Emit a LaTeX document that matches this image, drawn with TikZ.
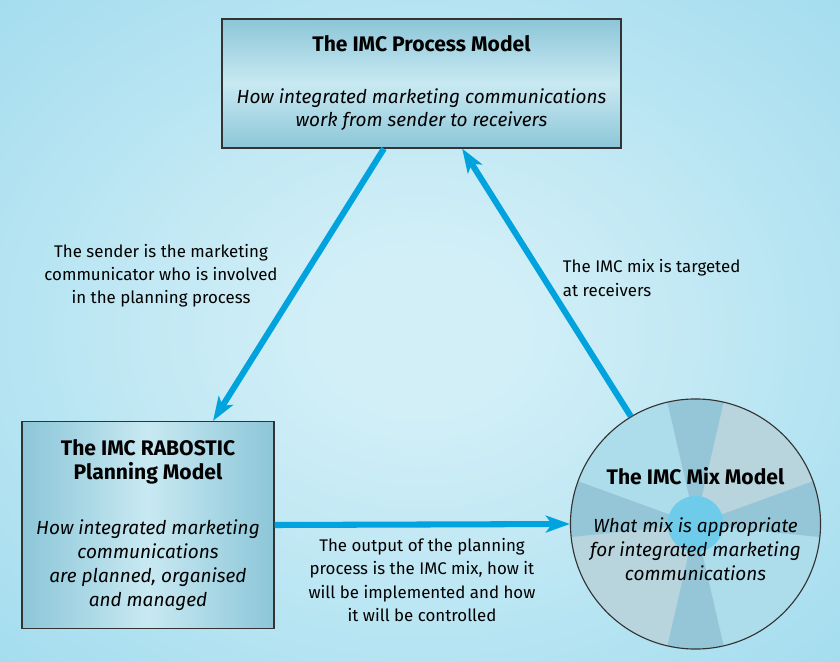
\documentclass[tikz,border=0pt]{standalone}
\usepackage{fontspec}
\setmainfont{Fira Sans}
\usetikzlibrary{arrows.meta,positioning,shadings}

\definecolor{bgin}{HTML}{D2EFF7}
\definecolor{bgout}{HTML}{8ED4EA}
\definecolor{boxdark}{HTML}{8CC6D8}
\definecolor{boxlight}{HTML}{C8E9F2}
\definecolor{flowblue}{HTML}{00A3DD}
\definecolor{mixgrey}{HTML}{B8D4DD}
\definecolor{mixblue}{HTML}{ADDCEB}
\definecolor{mixdark}{HTML}{95C6D7}
\definecolor{mixhub}{HTML}{6ECBEA}
\pgfdeclareradialshading{bgglow}{\pgfpoint{0bp}{0bp}}{color(0bp)=(bgin); color(6bp)=(bgin); color(50bp)=(bgout); color(72bp)=(bgout)}

\tikzset{
  model/.style={draw=black!80, line width=0.8pt, inner sep=0pt, align=center,
    font=\fontsize{13.5}{17}\selectfont\itshape},
  flow/.style={draw=flowblue, line width=4.3pt, -{Stealth[length=0.6cm,width=0.42cm,inset=0.15cm]}},
  note/.style={align=center, font=\fontsize{12}{16.5}\selectfont},
}
\newcommand{\mtitle}[1]{{\fontsize{15}{19.8}\selectfont\upshape\bfseries #1}}

\begin{document}
\begin{tikzpicture}[x=0.025cm, y=-0.025cm]
\shade[shading=bgglow] (0,0) rectangle (840,662);
\useasboundingbox (0,0) rectangle (840,662);

% the three models
\node[model, minimum width=9.975cm, minimum height=3.225cm,
  top color=boxdark, bottom color=boxdark, middle color=boxlight] (proc) at (421.5,83.5)
  {\mtitle{The IMC Process Model}\\[0.68cm]
   How integrated marketing communications\\work from sender to receivers};

\node[model, minimum width=6.3cm, minimum height=5.175cm,
  left color=boxdark, right color=boxdark, middle color=boxlight] (plan) at (148,525)
  {\mtitle{The IMC RABOSTIC}\\\mtitle{Planning Model}\\[0.78cm]
   How integrated marketing\\communications\\are planned, organised\\and managed};

\coordinate (mixc) at (695.5,524);
\fill[mixblue] (mixc) circle[radius=3.125cm];
\foreach \a/\b in {7/90,173/270}
  \fill[mixgrey] (mixc) -- ++(\a:3.125cm) arc[start angle=\a, end angle=\b, radius=3.125cm] -- cycle;
\foreach \a in {7,90,173,270}
  \fill[mixdark] (mixc) -- ++(\a-13:3.125cm) arc[start angle=\a-13, end angle=\a+13, radius=3.125cm] -- cycle;
\fill[mixhub] (mixc) circle[radius=0.7cm];
\node[model, circle, minimum size=6.25cm] (mix) at (mixc)
  {\mtitle{The IMC Mix Model}\\[0.6cm]
   What mix is appropriate\\for integrated marketing\\communications};

% links
\draw[flow] (proc.240.5) -- (plan.58);
\draw[flow] (mix.121) -- (proc.302);
\draw[flow] (plan.east) -- (mix.west);

\node[note] (sendnote) at (161,276) {The sender is the marketing\\communicator who is involved\\in the planning process};
\node[note, align=left, anchor=west] (mixnote) at (558,278) {The IMC mix is targeted\\at receivers};
\node[note] (outnote) at (422,580) {The output of the planning\\process is the IMC mix, how it\\will be implemented and how\\it will be controlled};
\end{tikzpicture}
\end{document}
